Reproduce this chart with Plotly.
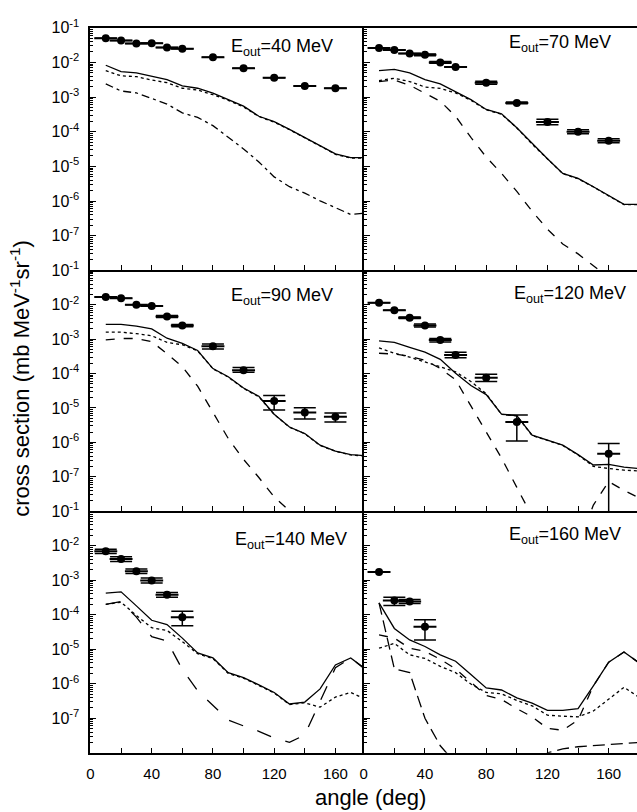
import plotly.graph_objects as go
from plotly.subplots import make_subplots

# ---------------- data ----------------
model_angle = [10, 20, 30, 40, 50, 60, 70, 80, 90, 100, 110, 120, 130, 140, 150, 160, 170, 180]
tick_x = [0, 40, 80, 120, 160]
tick_x_text = ["0", "40", "80", "120", "160"]
minor_x = [20, 60, 100, 140]
tick_y = [1e-1, 1e-2, 1e-3, 1e-4, 1e-5, 1e-6, 1e-7]
tick_y_text = ["10<sup>-1</sup>", "10<sup>-2</sup>", "10<sup>-3</sup>", "10<sup>-4</sup>",
               "10<sup>-5</sup>", "10<sup>-6</sup>", "10<sup>-7</sup>"]
bin_half_width = 7.5

# E_out = 40 MeV
e40_x = [10, 20, 30, 40, 50, 60, 80, 100, 120, 140, 160]
e40_y = [5.0e-2, 4.3e-2, 3.5e-2, 3.6e-2, 2.7e-2, 2.5e-2, 1.4e-2, 6.8e-3, 3.6e-3, 2.1e-3, 1.8e-3]
e40_hi = e40_y
e40_lo = e40_y
e40_solid = [8.3e-3, 5.4e-3, 5.0e-3, 3.9e-3, 3.2e-3, 2.1e-3, 1.8e-3, 1.3e-3, 8.5e-4, 5.5e-4,
             2.8e-4, 1.95e-4, 1.17e-4, 6.9e-5, 4.0e-5, 2.3e-5, 1.8e-5, 1.8e-5]
e40_dot = [5.8e-3, 4.1e-3, 3.9e-3, 3.1e-3, 2.6e-3, 1.8e-3, 1.6e-3, 1.17e-3, 8.1e-4, 5.2e-4,
           2.75e-4, 1.9e-4, 1.15e-4, 6.8e-5, 3.9e-5, 2.24e-5, 1.74e-5, 1.74e-5]
e40_dash = [2.4e-3, 1.5e-3, 1.32e-3, 8.9e-4, 6.3e-4, 3.5e-4, 2.6e-4, 1.5e-4, 6.9e-5, 3.2e-5,
            1.35e-5, 5.0e-6, 2.6e-6, 1.7e-6, 1.02e-6, 6.3e-7, 4.1e-7, 4.5e-7]

# E_out = 70 MeV
e70_x = [10, 20, 30, 40, 50, 60, 80, 100, 120, 140, 160]
e70_y = [2.6e-2, 2.3e-2, 1.8e-2, 1.66e-2, 1.0e-2, 7.4e-3, 2.6e-3, 6.8e-4, 1.9e-4, 1.0e-4, 5.5e-5]
e70_hi = [2.6e-2, 2.3e-2, 1.8e-2, 1.75e-2, 1.06e-2, 7.4e-3, 2.85e-3, 7.2e-4, 2.3e-4, 1.15e-4, 6.3e-5]
e70_lo = [2.6e-2, 2.3e-2, 1.8e-2, 1.57e-2, 0.94e-2, 7.4e-3, 2.35e-3, 6.4e-4, 1.6e-4, 8.7e-5, 4.8e-5]
e70_solid = [5.8e-3, 6.3e-3, 5.0e-3, 3.2e-3, 2.4e-3, 1.45e-3, 8.5e-4, 4.4e-4, 3.3e-4, 1.3e-4,
             4.5e-5, 1.66e-5, 6.3e-6, 4.5e-6, 2.6e-6, 1.45e-6, 8.1e-7, 8.1e-7]
e70_dot = [3.0e-3, 3.5e-3, 2.8e-3, 1.95e-3, 1.78e-3, 1.32e-3, 8.1e-4, 4.3e-4, 3.2e-4, 1.29e-4,
           4.4e-5, 1.62e-5, 6.2e-6, 4.4e-6, 2.57e-6, 1.41e-6, 7.9e-7, 7.9e-7]
e70_dash = [2.8e-3, 3.1e-3, 2.2e-3, 1.32e-3, 7.6e-4, 2.8e-4, 6.9e-5, 1.86e-5, 6.3e-6, 1.9e-6,
            5.1e-7, 1.55e-7, 5.8e-8, 3.0e-8, 1.4e-8, 6.3e-9, 2.5e-9, 1.0e-9]

# E_out = 90 MeV
e90_x = [10, 20, 30, 40, 50, 60, 80, 100, 120, 140, 160]
e90_y = [1.7e-2, 1.55e-2, 1.0e-2, 9.3e-3, 4.6e-3, 2.5e-3, 6.2e-4, 1.26e-4, 1.6e-5, 7.4e-6, 5.6e-6]
e90_hi = [1.7e-2, 1.55e-2, 1.0e-2, 9.3e-3, 4.9e-3, 2.7e-3, 7.2e-4, 1.5e-4, 2.3e-5, 1.02e-5, 7.1e-6]
e90_lo = [1.7e-2, 1.55e-2, 1.0e-2, 9.3e-3, 4.3e-3, 2.3e-3, 5.2e-4, 1.1e-4, 8.7e-6, 4.8e-6, 3.9e-6]
e90_solid = [2.7e-3, 2.7e-3, 2.4e-3, 2.0e-3, 1.07e-3, 7.6e-4, 4.7e-4, 1.4e-4, 8.1e-5, 3.8e-5,
             2.2e-5, 6.6e-6, 2.8e-6, 1.8e-6, 8.3e-7, 5.6e-7, 4.4e-7, 4.1e-7]
e90_dot = [1.6e-3, 1.6e-3, 1.45e-3, 1.26e-3, 8.1e-4, 6.9e-4, 4.6e-4, 1.38e-4, 7.9e-5, 3.7e-5,
           2.1e-5, 6.5e-6, 2.75e-6, 1.78e-6, 8.1e-7, 5.5e-7, 4.3e-7, 4.0e-7]
e90_dash = [9.5e-4, 1.05e-3, 1.05e-3, 8.5e-4, 3.8e-4, 1.58e-4, 4.3e-5, 7.4e-6, 1.3e-6, 3.2e-7,
            9.5e-8, 2.6e-8, 1.07e-8, 4.0e-9, 1.0e-9, 1.0e-9, 1.0e-9, 1.0e-9]

# E_out = 120 MeV
e120_x = [10, 20, 30, 40, 50, 60, 80, 100, 160]
e120_y = [1.15e-2, 6.9e-3, 4.2e-3, 2.5e-3, 9.5e-4, 3.5e-4, 7.6e-5, 3.9e-6, 4.7e-7]
e120_hi = [1.15e-2, 6.9e-3, 4.4e-3, 2.75e-3, 1.05e-3, 4.2e-4, 9.5e-5, 6.3e-6, 9.3e-7]
e120_lo = [1.15e-2, 6.9e-3, 4.0e-3, 2.25e-3, 8.3e-4, 2.9e-4, 5.9e-5, 1.1e-6, 1.0e-10]
e120_solid = [8.9e-4, 8.1e-4, 5.8e-4, 4.2e-4, 2.6e-4, 1.02e-4, 4.5e-5, 2.45e-5, 6.6e-6, 6.0e-6,
              1.62e-6, 1.17e-6, 8.3e-7, 4.4e-7, 2.2e-7, 2.3e-7, 1.9e-7, 1.74e-7]
e120_dot = [5.6e-4, 3.9e-4, 3.0e-4, 2.2e-4, 1.58e-4, 1.12e-4, 5.9e-5, 2.6e-5, 6.5e-6, 5.9e-6,
            1.58e-6, 1.15e-6, 8.1e-7, 4.3e-7, 2.0e-7, 1.74e-7, 1.55e-7, 1.48e-7]
e120_dash = [3.9e-4, 3.7e-4, 3.2e-4, 2.45e-4, 1.41e-4, 6.6e-5, 1.15e-5, 2.0e-6, 3.5e-7, 4.9e-8,
             6.3e-9, 1.0e-9, 1.0e-9, 1.0e-9, 1.5e-8, 7.2e-8, 4.0e-8, 2.4e-8]

# E_out = 140 MeV
e140_x = [10, 20, 30, 40, 50, 60]
e140_y = [6.9e-3, 4.1e-3, 1.8e-3, 9.8e-4, 3.8e-4, 8.5e-5]
e140_hi = [7.9e-3, 4.8e-3, 2.1e-3, 1.15e-3, 4.4e-4, 1.26e-4]
e140_lo = [5.9e-3, 3.5e-3, 1.55e-3, 8.3e-4, 3.2e-4, 4.8e-5]
e140_solid = [4.2e-4, 4.6e-4, 1.8e-4, 6.9e-5, 5.2e-5, 2.1e-5, 7.8e-6, 5.6e-6, 2.1e-6, 1.5e-6,
              9.3e-7, 5.6e-7, 2.6e-7, 2.95e-7, 7.1e-7, 3.5e-6, 5.6e-6, 2.6e-6]
e140_dot = [2.0e-4, 2.3e-4, 9.5e-5, 4.2e-5, 3.5e-5, 1.66e-5, 7.4e-6, 5.4e-6, 2.0e-6, 1.45e-6,
            8.9e-7, 5.4e-7, 2.5e-7, 2.8e-7, 2.1e-7, 4.1e-7, 5.6e-7, 3.5e-7]
e140_dash = [2.0e-4, 2.4e-4, 8.5e-5, 2.3e-5, 1.74e-5, 2.6e-6, 6.3e-7, 2.3e-7, 8.9e-8, 6.0e-8,
             4.2e-8, 2.7e-8, 2.0e-8, 3.3e-8, 3.0e-7, 2.9e-6, 5.6e-6, 2.5e-6]

# E_out = 160 MeV
e160_x = [10, 20, 30, 40]
e160_y = [1.74e-3, 2.6e-4, 2.4e-4, 4.5e-5]
e160_hi = [1.74e-3, 3.2e-4, 2.75e-4, 7.2e-5]
e160_lo = [1.74e-3, 1.86e-4, 2.1e-4, 1.86e-5]
e160_solid = [2.2e-4, 4.0e-5, 1.86e-5, 1.2e-5, 6.9e-6, 4.5e-6, 1.86e-6, 7.6e-7, 6.6e-7, 3.9e-7,
              2.75e-7, 1.7e-7, 1.7e-7, 1.9e-7, 8.7e-7, 4.2e-6, 8.3e-6, 4.0e-6]
e160_dot = [1.07e-5, 1.48e-5, 6.9e-6, 5.4e-6, 3.2e-6, 2.1e-6, 9.8e-7, 5.6e-7, 5.1e-7, 3.3e-7,
            2.3e-7, 1.23e-7, 1.15e-7, 1.1e-7, 1.62e-7, 3.6e-7, 7.9e-7, 4.0e-7]
e160_dash = [2.6e-5, 2.1e-5, 1.07e-5, 8.7e-6, 5.1e-6, 2.7e-6, 1.1e-6, 4.6e-7, 3.5e-7, 1.9e-7,
             1.1e-7, 5.1e-8, 4.5e-8, 8.9e-8, 8.7e-7, 4.2e-6, 8.3e-6, 4.0e-6]
e160_longdash = [2.2e-4, 2.7e-6, 2.1e-6, 1.0e-7, 1.6e-8, 5.0e-9, 1.0e-9, 1.0e-9, 1.0e-9, 1.0e-9,
                 1.0e-9, 1.0e-8, 1.3e-8, 1.5e-8, 1.6e-8, 1.74e-8, 1.9e-8, 2.0e-8]

# ---------------- figure ----------------
FONT = "Liberation Sans, Arial, Helvetica, sans-serif"
fig = make_subplots(rows=3, cols=2, horizontal_spacing=0, vertical_spacing=0)

panels = [
    (1, 1, "40", e40_x, e40_y, e40_hi, e40_lo,
     [(e40_solid, "solid"), (e40_dot, "dot"), (e40_dash, "8px,4px,3px,4px")], 0.895, 0.919),
    (1, 2, "70", e70_x, e70_y, e70_hi, e70_lo,
     [(e70_solid, "solid"), (e70_dot, "dot"), (e70_dash, "dash")], 0.913, 0.935),
    (2, 1, "90", e90_x, e90_y, e90_hi, e90_lo,
     [(e90_solid, "solid"), (e90_dot, "dot"), (e90_dash, "dash")], 0.895, 0.89),
    (2, 2, "120", e120_x, e120_y, e120_hi, e120_lo,
     [(e120_solid, "solid"), (e120_dot, "dot"), (e120_dash, "dash")], 0.967, 0.90),
    (3, 1, "140", e140_x, e140_y, e140_hi, e140_lo,
     [(e140_solid, "solid"), (e140_dot, "dot"), (e140_dash, "longdash")], 0.945, 0.878),
    (3, 2, "160", e160_x, e160_y, e160_hi, e160_lo,
     [(e160_solid, "solid"), (e160_dot, "dot"), (e160_dash, "dash"),
      (e160_longdash, "12px,6px")], 0.95, 0.898),
]

for idx, (r, c, lab, dx, dy, dhi, dlo, lines, lx, ly) in enumerate(panels):
    for vals, dash in lines:
        fig.add_trace(go.Scatter(x=model_angle, y=vals, mode="lines",
                                 line=dict(color="black", width=1.3, dash=dash),
                                 showlegend=False, hoverinfo="skip"), row=r, col=c)
    plus = [h - v for h, v in zip(dhi, dy)]
    minus = [v - l for v, l in zip(dy, dlo)]
    fig.add_trace(go.Scatter(
        x=dx, y=dy, mode="markers",
        marker=dict(color="black", size=8),
        error_x=dict(type="constant", value=bin_half_width, color="black", thickness=2, width=0),
        error_y=dict(type="data", array=plus, arrayminus=minus, symmetric=False,
                     color="black", thickness=1.5, width=11),
        showlegend=False, cliponaxis=True), row=r, col=c)
    n = idx + 1
    xr = "x" if n == 1 else f"x{n}"
    yr = "y" if n == 1 else f"y{n}"
    fig.add_annotation(text="E<sub>out</sub>=" + lab + " MeV", xref=f"{xr} domain",
                       yref=f"{yr} domain", x=lx, y=ly, xanchor="right", yanchor="middle",
                       showarrow=False, font=dict(size=18, color="black", family=FONT))

col_dom = {1: [87 / 637, 362 / 637], 2: [362 / 637, 1.0]}
row_dom = {1: [1 - 263 / 812, 1 - 17 / 812], 2: [1 - 507 / 812, 1 - 263 / 812],
           3: [1 - 752 / 812, 1 - 507 / 812]}

minor_y = [k * 10.0 ** e for e in range(-8, -1) for k in range(2, 10)]

for r in (1, 2, 3):
    for c in (1, 2):
        fig.update_xaxes(row=r, col=c, domain=col_dom[c], range=[0, 178.5],
                         tickmode="array", tickvals=tick_x, ticktext=tick_x_text,
                         showticklabels=(r == 3), ticks="inside", ticklen=5,
                         tickwidth=1.3, tickcolor="black",
                         minor=dict(tickmode="array", tickvals=minor_x, ticks="inside",
                                    ticklen=5, tickwidth=1.3, tickcolor="black",
                                    showgrid=False),
                         showline=True, linecolor="black", linewidth=2, mirror=(r == 1),
                         showgrid=False, zeroline=False, ticklabelstandoff=6,
                         tickfont=dict(size=15, color="black", family=FONT))
        fig.update_yaxes(row=r, col=c, domain=row_dom[r], type="log", range=[-8, -1],
                         tickmode="array", tickvals=tick_y, ticktext=tick_y_text,
                         showticklabels=(c == 1), ticks="inside", ticklen=6,
                         tickwidth=1.3, tickcolor="black",
                         minor=dict(tickmode="array", tickvals=minor_y, ticks="inside",
                                    ticklen=3, tickcolor="black", showgrid=False),
                         showline=True, linecolor="black", linewidth=2,
                         mirror=False, showgrid=False, zeroline=False,
                         ticklabelstandoff=6,
                         tickfont=dict(size=16, color="black", family=FONT))

fig.add_annotation(text="cross section (mb MeV<sup>-1</sup>sr<sup>-1</sup>)",
                   xref="paper", yref="paper", x=16 / 637, y=1 - 372 / 812,
                   textangle=-90, showarrow=False, xanchor="center", yanchor="middle",
                   font=dict(size=22, color="black", family=FONT))
fig.add_annotation(text="angle (deg)", xref="paper", yref="paper",
                   x=369 / 637, y=1 - 797 / 812, showarrow=False,
                   xanchor="center", yanchor="middle",
                   font=dict(size=22, color="black", family=FONT))

fig.update_layout(width=637, height=812, margin=dict(l=0, r=0, t=0, b=0),
                  paper_bgcolor="white", plot_bgcolor="white",
                  font=dict(family=FONT, color="black"))

fig.write_html("out.html", config={"displayModeBar": False},
               post_script="document.body.style.margin='0px';"
                           "document.body.style.overflow='hidden';")
